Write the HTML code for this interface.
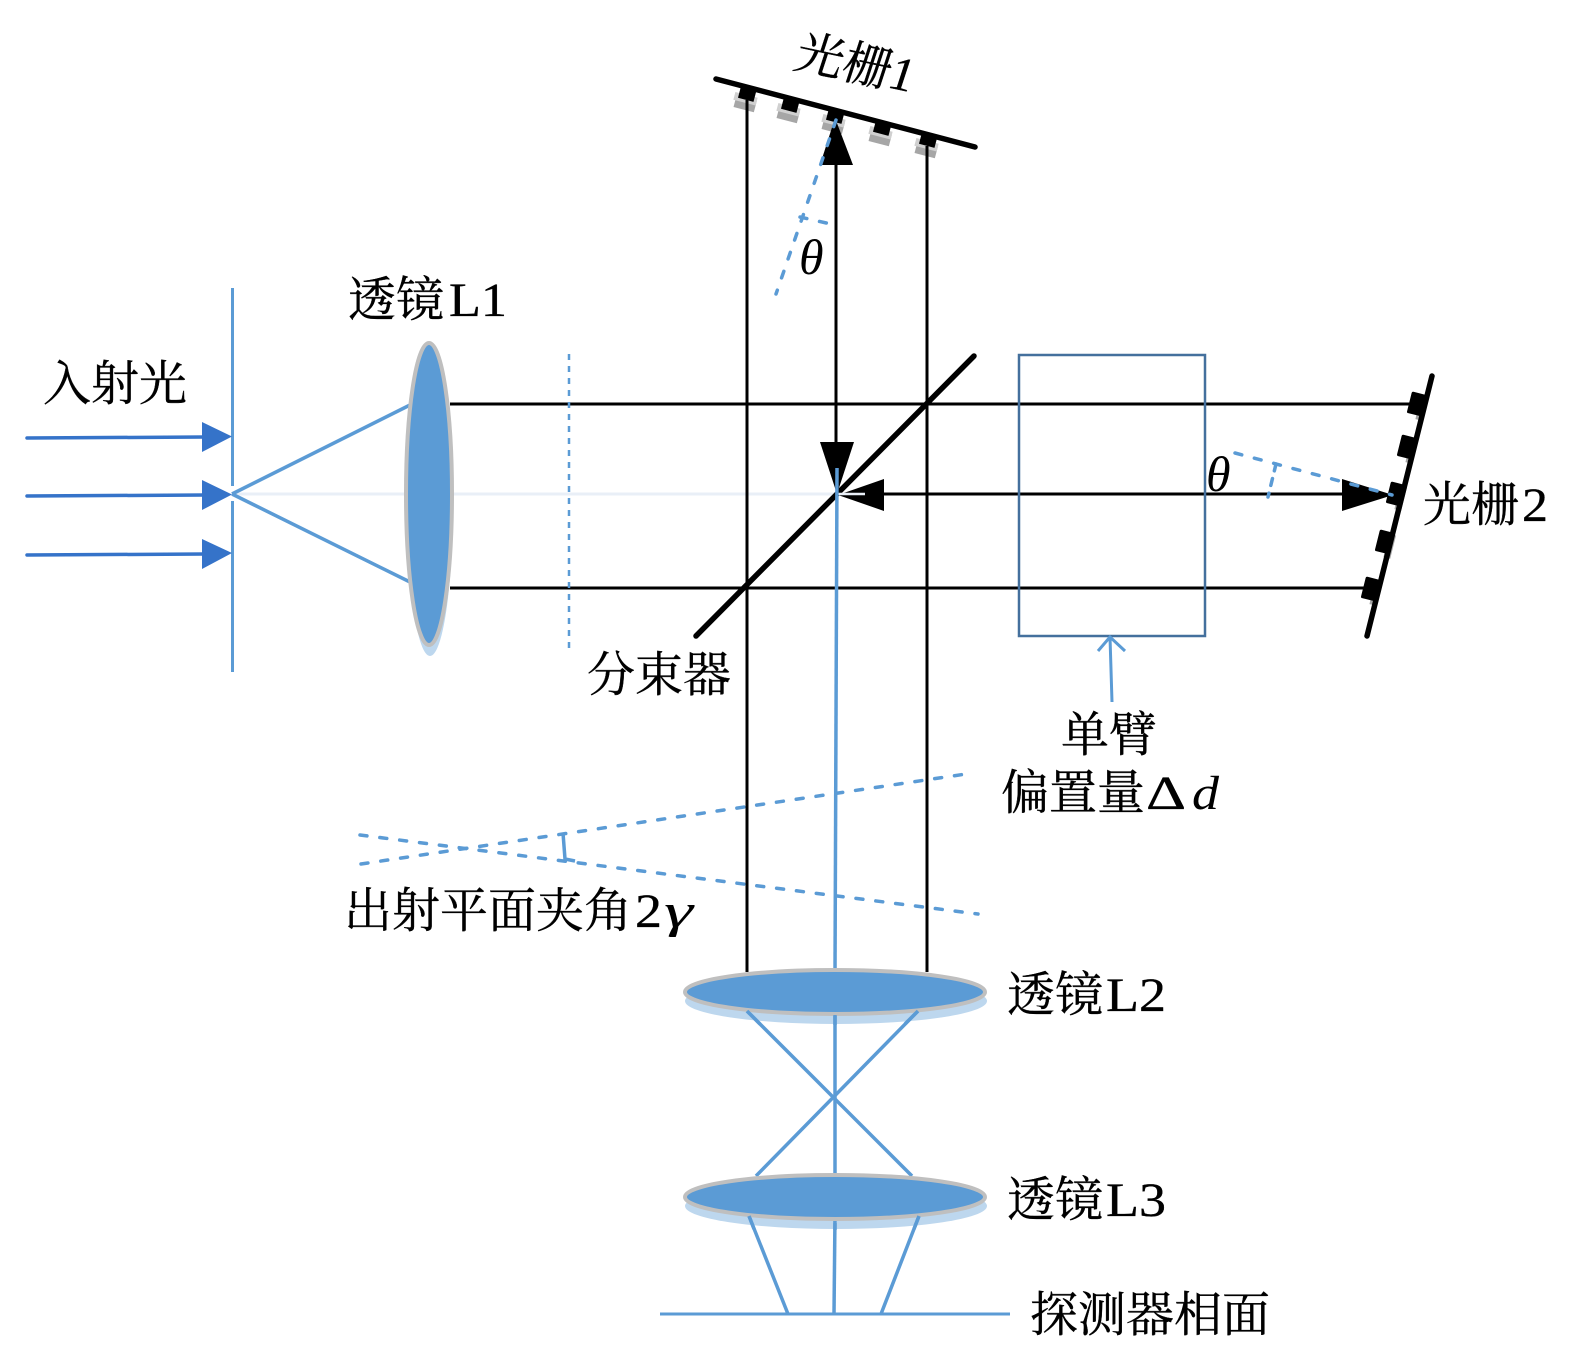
<!DOCTYPE html>
<html><head><meta charset="utf-8"><style>
html,body{margin:0;padding:0;background:#fff;width:1575px;height:1358px;overflow:hidden}
svg{display:block}
text{font-family:"Liberation Serif","Noto Serif CJK SC",serif;font-size:48px;fill:#000;stroke:#000;stroke-width:.35px}
.m{font-style:italic;stroke-width:0}
</style></head><body>
<svg width="1575" height="1358" viewBox="0 0 1575 1358" xmlns="http://www.w3.org/2000/svg">
<defs>
<g id="t1"><rect x="-10" y="3" width="21" height="12" fill="#a6a6a6"/><rect x="-12" y="0" width="23" height="8" fill="#d0d0d0"/><rect x="-8" y="-6" width="16" height="11" fill="#000"/></g>
<g id="t2"><rect x="-2" y="-9" width="7" height="24" fill="#a6a6a6"/><rect x="-12" y="-11" width="15" height="22" rx="1.500" fill="#000"/></g>
</defs>
<!-- faint axis -->
<line x1="232" y1="494" x2="838" y2="494" stroke="#e9eff7" stroke-width="3"/>
<!-- black beams -->
<g stroke="#000" stroke-width="3" fill="none">
<line x1="450" y1="404" x2="1414" y2="404"/>
<line x1="450" y1="588" x2="1368" y2="588"/>
<line x1="836" y1="160" x2="836" y2="445"/>
<line x1="880" y1="494" x2="1345" y2="494"/>
</g>
<!-- box -->
<rect x="1019" y="355" width="186" height="281" fill="none" stroke="#44709d" stroke-width="2.500"/>
<!-- input screen -->
<g stroke="#5b9bd5" stroke-width="3" fill="none">
<line x1="232.500" y1="288" x2="232.500" y2="486"/>
<line x1="232.500" y1="501" x2="232.500" y2="672"/>
<line x1="232" y1="494" x2="410" y2="405" stroke-width="3.500"/>
<line x1="232" y1="494" x2="410" y2="582" stroke-width="3.500"/>
</g>
<line x1="569" y1="354" x2="569" y2="650" stroke="#5b9bd5" stroke-width="2.500" stroke-dasharray="6 6"/>
<!-- input arrows -->
<g stroke="#3573c9" stroke-width="3.500" stroke-linecap="round"><line x1="27" y1="438" x2="205" y2="437"/><line x1="27" y1="496" x2="205" y2="495"/><line x1="27" y1="555" x2="205" y2="554"/></g>
<g fill="#3573c9"><polygon points="202,422 232,436.500 202,452"/><polygon points="202,480 232,494.500 202,510"/><polygon points="202,539 232,553 202,569"/></g>
<!-- L1 -->
<ellipse cx="430" cy="502" rx="23" ry="154" fill="#bdd7ee"/>
<ellipse cx="429" cy="494" rx="23" ry="151" fill="#5b9bd5" stroke="#bfbfbf" stroke-width="4"/>
<!-- gratings -->
<g transform="translate(747,95) rotate(14.700)"><use href="#t1"/></g>
<g transform="translate(790,106) rotate(14.700)"><use href="#t1"/></g>
<g transform="translate(835,117) rotate(14.700)"><use href="#t1"/></g>
<g transform="translate(882,129) rotate(14.700)"><use href="#t1"/></g>
<g transform="translate(928,141) rotate(14.700)"><use href="#t1"/></g>
<g stroke="#000" stroke-width="3" fill="none">
<line x1="747" y1="100" x2="747" y2="972"/>
<line x1="927" y1="146" x2="927" y2="972"/>
</g>
<line x1="716" y1="79" x2="975" y2="147" stroke="#000" stroke-width="5.500" stroke-linecap="round"/>
<g transform="translate(1421,405) rotate(14)"><use href="#t2"/></g>
<g transform="translate(1411,448) rotate(14)"><use href="#t2"/></g>
<g transform="translate(1400,495) rotate(14)"><use href="#t2"/></g>
<g transform="translate(1389,543) rotate(14)"><use href="#t2"/></g>
<g transform="translate(1375,590) rotate(14)"><use href="#t2"/></g>
<line x1="1432" y1="376" x2="1367" y2="636" stroke="#000" stroke-width="5.500" stroke-linecap="round"/>
<!-- splitter -->
<line x1="696" y1="636" x2="974" y2="356" stroke="#000" stroke-width="5.500" stroke-linecap="round"/>
<!-- black arrowheads -->
<g fill="#000">
<polygon points="835,118 820,165 853,165"/>
<polygon points="820,442 854,442 837,494"/>
<polygon points="884,479 884,511 838,495"/>
<polygon points="1342,479 1342,511 1393,495"/>
</g>
<line x1="838" y1="494" x2="865" y2="494" stroke="#e9eff7" stroke-width="2.500"/>
<!-- lens shadows -->
<ellipse cx="836" cy="1001" rx="151" ry="23" fill="#bdd7ee"/>
<ellipse cx="836" cy="1206" rx="151" ry="23" fill="#bdd7ee"/>
<!-- central blue -->
<g stroke="#5b9bd5" stroke-width="3.500" fill="none">
<line x1="837" y1="468" x2="835" y2="972"/>
<line x1="835" y1="1005" x2="835" y2="1180"/>
<line x1="835" y1="1215" x2="834" y2="1314"/>
<line x1="747" y1="1011" x2="912" y2="1176"/>
<line x1="918" y1="1011" x2="756" y2="1176"/>
<line x1="749" y1="1216" x2="788" y2="1314"/>
<line x1="919" y1="1216" x2="881" y2="1314"/>
<line x1="660" y1="1314" x2="1010" y2="1314" stroke-width="3"/>
<path d="M1112 702 L1110 637 M1098 651 L1110 637 L1125 651" stroke-width="3"/>
</g>
<!-- L2 L3 -->
<ellipse cx="835" cy="992" rx="150" ry="22" fill="#5b9bd5" stroke="#bfbfbf" stroke-width="4"/>
<ellipse cx="835" cy="1197" rx="150" ry="22" fill="#5b9bd5" stroke="#bfbfbf" stroke-width="4"/>
<g stroke="#5b9bd5" stroke-width="3.500">
<line x1="747" y1="1011" x2="760" y2="1024"/><line x1="918" y1="1011" x2="905" y2="1024"/><line x1="835" y1="1015" x2="835" y2="1025"/>
<line x1="749" y1="1216" x2="754" y2="1229"/><line x1="919" y1="1216" x2="914" y2="1229"/><line x1="835" y1="1223" x2="835" y2="1230"/>
</g>
<!-- dashed -->
<g stroke="#5b9bd5" stroke-width="3.500" fill="none" stroke-dasharray="7 13" stroke-linecap="round">
<line x1="836" y1="120" x2="776" y2="294"/>
<path d="M800 217 L835 225"/>
<line x1="1235" y1="453" x2="1392" y2="495"/>
<path d="M1276 464 L1268 497" stroke-dasharray="7 8"/>
<line x1="360" y1="835" x2="978" y2="914"/>
<line x1="361" y1="864" x2="966" y2="774"/>
</g>
<path d="M563 833 L565 859 L575 861" stroke="#5b9bd5" stroke-width="3.500" fill="none"/>
<!-- labels -->
<text x="43" y="400">入射光</text>
<text x="348" y="316">透镜</text><text x="449" y="316" textLength="58" lengthAdjust="spacingAndGlyphs">L1</text>
<text x="587" y="691">分束器</text>
<text x="1061" y="751">单臂</text>
<text x="1001" y="809">偏置量</text><text x="1146" y="809" textLength="40" lengthAdjust="spacingAndGlyphs">Δ</text><text class="m" x="1192" y="809" textLength="27" lengthAdjust="spacingAndGlyphs">d</text>
<text x="344" y="927">出射平面夹角</text><text x="635" y="927" textLength="27" lengthAdjust="spacingAndGlyphs">2</text><text class="m" x="664" y="927" textLength="29" lengthAdjust="spacingAndGlyphs">γ</text>
<text x="1007" y="1011">透镜</text><text x="1106" y="1011" textLength="60" lengthAdjust="spacingAndGlyphs">L2</text>
<text x="1007" y="1216">透镜</text><text x="1106" y="1216" textLength="60" lengthAdjust="spacingAndGlyphs">L3</text>
<text x="1030" y="1331">探测器相面</text>
<text x="1423" y="521">光栅</text><text x="1522" y="521" textLength="26" lengthAdjust="spacingAndGlyphs">2</text>
<text transform="translate(792,67) rotate(12) skewX(-6)">光栅<tspan>1</tspan></text>
<text class="m" x="799" y="274" style="font-size:50px">θ</text>
<text class="m" x="1206" y="491" style="font-size:50px">θ</text>
</svg>
</body></html>
